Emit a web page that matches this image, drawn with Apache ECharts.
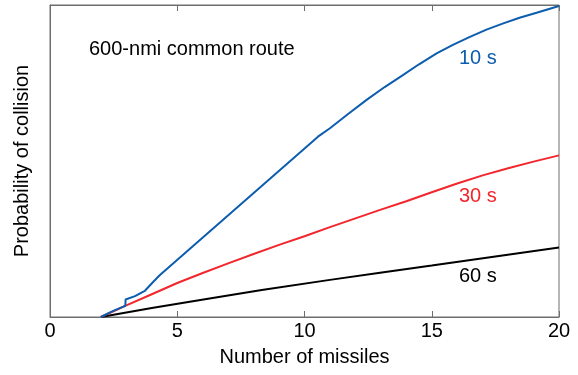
<!DOCTYPE html>
<html><head><meta charset="utf-8">
<script src="https://cdn.jsdelivr.net/npm/echarts@6/dist/echarts.min.js"></script>
<style>html,body{margin:0;padding:0;background:#fff}#c{width:578px;height:375px}</style>
</head><body><div id="c"></div>
<script>
const xTicks = [0, 5, 10, 15, 20];
const blue10s = [[2,0],[2.42,0.017],[2.88,0.033],[2.96,0.036],[2.97,0.056],[3.34,0.067],[3.54,0.076],[3.73,0.084],[4.06,0.113],[4.32,0.1346],[10.53,0.578],[11.0,0.605],[11.7,0.650],[12.44,0.696],[13.15,0.737],[13.88,0.776],[14.5,0.810],[15.19,0.845],[15.85,0.873],[16.5,0.898],[17.15,0.921],[17.81,0.941],[18.45,0.959],[19.12,0.975],[20,0.997]];
const red30s = [[2,0],[3,0.037],[4,0.073],[5,0.109],[6,0.141],[7,0.172],[8,0.202],[9,0.231],[10,0.259],[11,0.288],[12,0.316],[13,0.344],[14,0.371],[15,0.400],[16,0.428],[17,0.454],[18,0.477],[19,0.498],[20,0.518]];
const black60s = [[2,0],[4,0.029],[6.09,0.057],[8.32,0.0865],[11,0.119],[12.97,0.142],[15,0.165],[17.5,0.194],[20,0.223]];
const seriesNames = ['10 s', '30 s', '60 s'];
const colors = ['#0c5dae', '#f2262c', '#000000'];

const chart = echarts.init(document.getElementById('c'));
const font = 'Liberation Sans, Arial, sans-serif';
const axisGray = '#6e6e6e';
chart.setOption({
  animation: false,
  grid: {left: 50, right: 19, top: 5, bottom: 58, show: true, borderColor: axisGray, borderWidth: 1},
  xAxis: [{
    type: 'value', min: 0, max: 20, interval: 5,
    name: 'Number of missiles', nameLocation: 'middle', nameGap: 30,
    nameTextStyle: {fontFamily: font, fontSize: 20, color: '#000'},
    axisLine: {lineStyle: {color: axisGray}},
    axisTick: {inside: true, length: 6, lineStyle: {color: axisGray}},
    axisLabel: {fontFamily: font, fontSize: 20, color: '#000', margin: 4,
      formatter: v => String(v)},
    splitLine: {show: false}
  }, {
    type: 'value', min: 0, max: 20, interval: 5, position: 'top',
    axisLine: {lineStyle: {color: axisGray}},
    axisTick: {inside: true, length: 6, lineStyle: {color: axisGray}},
    axisLabel: {show: false}, splitLine: {show: false}
  }],
  yAxis: {
    type: 'value', min: 0, max: 1,
    name: 'Probability of collision', nameLocation: 'middle', nameGap: 18,
    nameTextStyle: {fontFamily: font, fontSize: 20, color: '#000'},
    axisLine: {show: true, lineStyle: {color: axisGray}},
    axisTick: {show: false}, axisLabel: {show: false}, splitLine: {show: false}
  },
  series: [blue10s, red30s, black60s].map((d, i) => ({
    type: 'line', name: seriesNames[i], data: d, showSymbol: false,
    smooth: false,
    lineStyle: {color: colors[i], width: 2}, z: 3 - i
  })),
  graphic: [
    {type: 'text', left: 89, top: 39, style: {text: '600-nmi common route', font: '20px ' + font, fill: '#000'}},
    {type: 'text', left: 459, top: 48, style: {text: seriesNames[0], font: '20px ' + font, fill: colors[0]}},
    {type: 'text', left: 459, top: 186, style: {text: seriesNames[1], font: '20px ' + font, fill: colors[1]}},
    {type: 'text', left: 459, top: 266, style: {text: seriesNames[2], font: '20px ' + font, fill: colors[2]}}
  ]
});
</script></body></html>
